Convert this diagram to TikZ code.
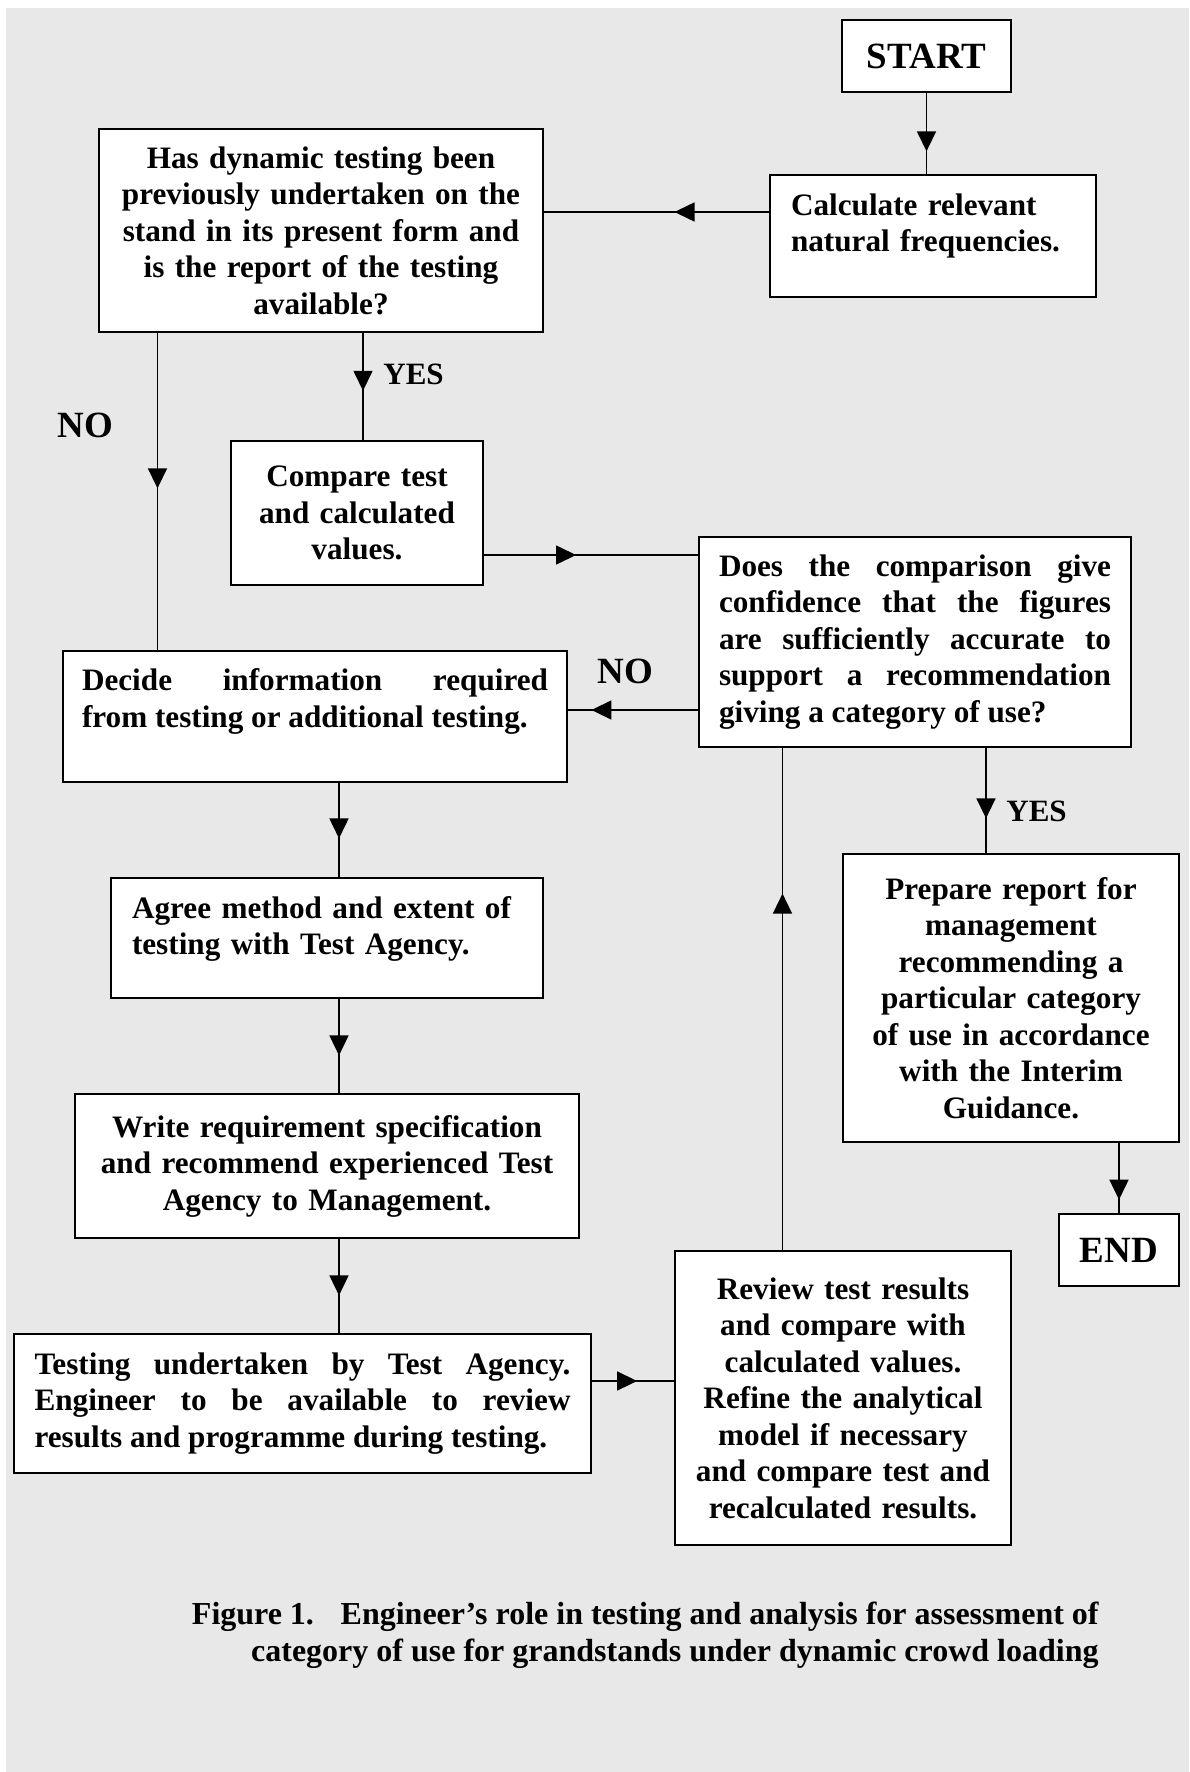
\documentclass[tikz,border=0pt]{standalone}
\usepackage{fontspec}
\setmainfont{Liberation Serif}
\usetikzlibrary{arrows.meta}
\usetikzlibrary{decorations.markings}
\definecolor{bggray}{RGB}{232,232,232}
\newcommand{\boxfont}{\bfseries\fontsize{15.6pt}{18.25pt}\selectfont\hyphenpenalty=10000\exhyphenpenalty=10000}
\newcommand{\bigfont}{\bfseries\fontsize{18.5pt}{22pt}\selectfont}
\newcommand{\yesfont}{\bfseries\fontsize{15.5pt}{18pt}\selectfont}
\begin{document}
\begin{tikzpicture}[x=0.5pt,y=-0.5pt,
    box/.style={draw,line width=1pt,fill=white,inner xsep=3pt,inner ysep=0pt,font=\boxfont},
    conn/.style={line width=0.8pt,postaction={decorate,decoration={markings,
        mark=at position #1 with {\arrow{Triangle[length=10pt,width=9.5pt]}}}}},
    lbl/.style={inner sep=0pt,font=\bigfont}]
                \useasboundingbox (0,0) rectangle (1189,1772);
                \fill[white] (0,0) rectangle (1189,1772);
                \fill[bggray] (6,8) rectangle (1189,1772);
                \node[box,minimum width=84.5pt,minimum height=36pt,font=\bigfont] (start) at (926.5,56) {START};
                \node[box,minimum width=163pt,text width=142pt,minimum height=61pt,align=left] (calc) at (933,236)
                    {Calculate relevant\\natural frequencies.\\[-5pt]\mbox{}};
                \node[box,minimum width=222pt,text width=212pt,minimum height=101.5pt,align=center] (hasdyn) at (321,230.5)
                    {Has dynamic testing been\\previously undertaken on the\\stand in its present form and\\is the report of the testing\\available?};
                \node[box,minimum width=126pt,text width=116pt,minimum height=72pt,align=center] (compare) at (357,513)
                    {Compare test\\and calculated\\values.};
                \node[box,minimum width=216pt,text width=196pt,minimum height=105pt,align=justify] (does) at (915,642)
                    {Does the comparison give\linebreak confidence that the figures\linebreak are sufficiently accurate to\linebreak support a recommendation\linebreak giving a category of use?};
                \node[box,minimum width=252pt,text width=233pt,minimum height=65.5pt,align=justify] (decide) at (315,716.5)
                    {Decide information required\linebreak from testing or additional testing.\\\mbox{}};
                \node[box,minimum width=168pt,text width=158pt,minimum height=144pt,align=center] (prepare) at (1011,998)
                    {Prepare report for\\management\\recommending a\\particular category\\of use in accordance\\with the Interim\\Guidance.};
                \node[box,minimum width=216pt,text width=195pt,minimum height=60pt,align=left] (agree) at (327,938)
                    {Agree method and extent of\\testing with Test Agency.\\[-6pt]\mbox{}};
                \node[box,minimum width=252pt,text width=242pt,minimum height=72pt,align=center] (write) at (327,1166)
                    {Write requirement specification\\and recommend experienced Test\\Agency to Management.};
                \node[box,minimum width=60pt,minimum height=36pt,font=\bigfont] (end) at (1119,1250) {END};
                \node[box,minimum width=288.5pt,text width=268pt,minimum height=69.5pt,align=justify] (testing) at (302.5,1403.5)
                    {Testing undertaken by Test Agency.\linebreak Engineer to be available to review\linebreak results and programme during testing.};
                \node[box,minimum width=168pt,text width=158pt,minimum height=147pt,align=center] (review) at (843,1398)
                    {Review test results\\and compare with\\calculated values.\\Refine the analytical\\model if necessary\\and compare test and\\recalculated results.};
                \node[lbl,font=\yesfont,anchor=west] (yes1) at (383,374) {YES};
                \node[lbl,font=\yesfont,anchor=west] (yes2) at (1006,811) {YES};
                \node[lbl] (no1) at (85.5,425) {NO};
                \node[lbl] (no2) at (625.5,671) {NO};
                \draw[conn=0.72] (start.south) -- (start.south |- calc.north);
                \draw[conn=0.42] ([yshift=12pt]calc.west) -- ([yshift=12pt]calc.west -| hasdyn.east);
                \draw[conn=0.54] ([xshift=3pt]compare.north |- hasdyn.south) -- ([xshift=3pt]compare.north);
                \draw[conn=0.49] ([xshift=29.75pt]hasdyn.south west) -- ([xshift=29.75pt]hasdyn.south west |- decide.north);
                \draw[conn=0.43] ([yshift=-21pt]compare.east) -- ([yshift=-21pt]compare.east -| does.west);
                \draw[conn=0.82] ([yshift=-34pt]does.west) -- ([yshift=-34pt]does.west -| decide.east);
                \draw[conn=0.67] ([xshift=35.5pt]does.south) -- ([xshift=35.5pt]does.south |- prepare.north);
                \draw[conn=0.59] ([xshift=6pt]agree.north |- decide.south) -- ([xshift=6pt]agree.north);
                \draw[conn=0.60] ([xshift=6pt]write.north |- agree.south) -- ([xshift=6pt]write.north);
                \draw[conn=0.60] ([xshift=6pt]agree.north |- write.south) -- ([xshift=6pt]agree.north |- testing.north);
                \draw[conn=0.55] ([yshift=11.25pt]testing.east) -- ([yshift=11.25pt]testing.east -| review.west);
                \draw[conn=0.71] ([xshift=-30.25pt]review.north) -- ([xshift=-30.25pt]review.north |- does.south);
                \draw[conn=0.81] (end.north |- prepare.south) -- (end.north);
                \node[inner sep=0pt,anchor=east,align=right,font=\bfseries\fontsize{16pt}{18.5pt}\selectfont] (caption) at (1099,1635.5)
                    {Figure 1.\hspace{8pt} Engineer’s role in testing and analysis for assessment of\\category of use for grandstands under dynamic crowd loading};
\end{tikzpicture}
\end{document}
